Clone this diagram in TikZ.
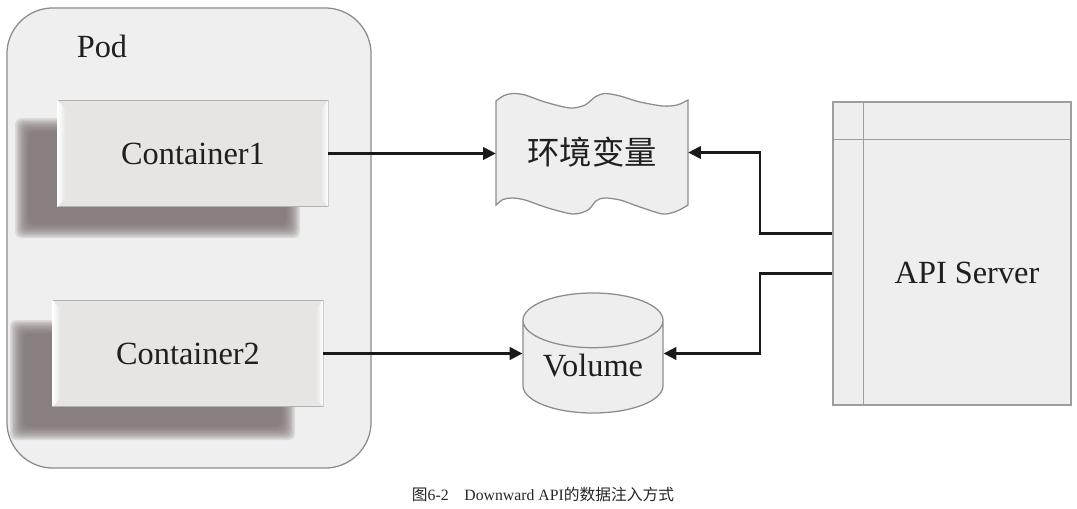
\documentclass[tikz,border=0pt]{standalone}
\usepackage{fontspec}
\setmainfont{Liberation Serif}
\newfontfamily\cjk{Noto Sans CJK SC}
\usepackage{xcolor}
\usetikzlibrary{arrows.meta}
\usetikzlibrary{positioning, shapes.geometric}
\definecolor{podgray}{RGB}{239,239,239}
\definecolor{ctrgray}{RGB}{230,229,228}
\definecolor{shadowgray}{RGB}{118,108,105}
\definecolor{boxgray}{RGB}{238,238,238}
\definecolor{edgegray}{RGB}{140,140,140}

\begin{document}
\begin{tikzpicture}[x=0.025cm, y=-0.025cm,
    lbl/.style={font=\fontsize{23}{27}\selectfont, text=black!88},
    podbox/.style={draw=edgegray, fill=podgray, line width=0.9pt, rounded corners=1.15cm,
        minimum width=9.1cm, minimum height=11.5cm},
    ctrbox/.style={lbl, draw=black!30, fill=ctrgray, line width=0.6pt,
        minimum width=6.75cm, minimum height=2.65cm},
    docline/.style={draw=edgegray, fill=boxgray, line width=0.9pt},
    volshape/.style={lbl, cylinder, shape border rotate=90, aspect=0.5, draw=edgegray,
        fill=boxgray, line width=0.9pt, minimum width=3.5cm, minimum height=3cm},
    serverbox/.style={draw=black!38, fill=boxgray, line width=0.9pt,
        minimum width=5.95cm, minimum height=7.575cm},
    serverline/.style={draw=black!38, line width=0.9pt},
    arr/.style={-{Triangle[length=9pt,width=9pt]}, line width=1.5pt, black!90}]
    \useasboundingbox (0,0) rectangle (1077,508);
    % pod
    \node[podbox] (pod) at (189,238) {};
    \node[lbl] (podname) at (102,46) {Pod};
    % soft shadows
    \foreach \sx/\sy in {22/125, 17/327} {
        \foreach \k in {0,...,9}
            \fill[shadowgray, opacity=0.16, rounded corners=4pt]
                (\sx-7+1.5*\k, \sy-7+1.5*\k) rectangle (\sx+278-1.5*\k, \sy+113-1.5*\k);
    }
    % containers
    \node[ctrbox] (c1) at (193,153.5) {Container1};
    \node[ctrbox] (c2) at (188,353.5) {Container2};
    \foreach \c in {c1,c2} {
        \shade[left color=white, right color=ctrgray] (\c.north west) -- ++(8,9)
            -- ([shift={(8,-9)}]\c.south west) -- (\c.south west) -- cycle;
        \shade[left color=ctrgray, right color=white] (\c.north east) -- ++(-8,9)
            -- ([shift={(-8,-9)}]\c.south east) -- (\c.south east) -- cycle;
    }
    % environment variables
    \filldraw[docline] plot[smooth] coordinates {(496,101) (504,95.5) (513,93.5) (525,95)
        (545,102) (570,108) (585,105) (595,97) (605,93.5) (620,96) (640,102) (663,106)
        (677,105) (688,100)}
        -- plot[smooth] coordinates {(688,205) (677,211) (663,214) (640,207) (620,200)
        (604,198) (596,201) (588,210) (573,214) (548,208) (525,200) (512,198) (503,199.5)
        (496,205)} -- cycle;
    \node[lbl, font=\cjk\fontsize{23}{27}\selectfont, minimum width=4.8cm,
        minimum height=2.625cm] (env) at (592,152.5) {环境变量};
    % volume
    \node[volshape, anchor=shape center] (vol) at (593,353) {\raisebox{0.35cm}{Volume}};
    % api server
    \node[serverbox] (api) at (952,253.5) {};
    \draw[serverline] ([xshift=0.775cm]api.north west) -- ([xshift=0.775cm]api.south west);
    \draw[serverline] ([yshift=-0.95cm]api.north west) -- ([yshift=-0.95cm]api.north east);
    \node[lbl] (apiname) at (967,273) {API Server};
    % connectors
    \draw[arr] (c1.east) -- (c1.east -| env.west);
    \draw[arr] (c2.east) -- (c2.east -| vol.west);
    \draw[arr] ([yshift=0.5cm]api.west) -- ++(-72,0) |- (env.east);
    \draw[arr] ([yshift=-0.5cm]api.west) -- ++(-72,0) |- (vol.east |- c2.east);
    % caption
    \node[font=\fontsize{11.2}{13}\selectfont, text=black!85] (caption) at (543,494)
        {{\cjk 图}6-2\quad Downward API{\cjk 的数据注入方式}};
\end{tikzpicture}
\end{document}
